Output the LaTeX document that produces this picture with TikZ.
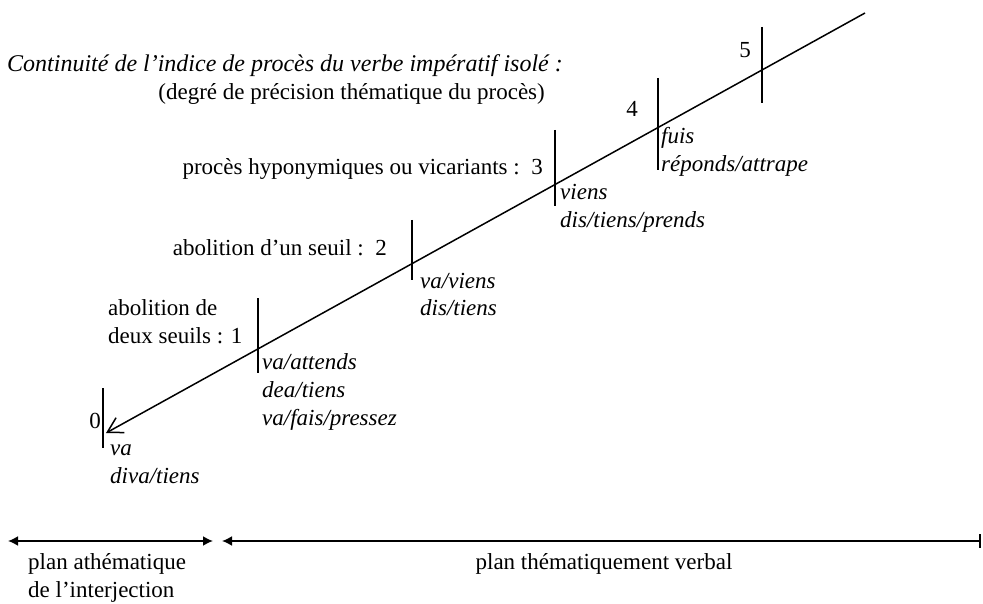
\documentclass[tikz,border=0pt]{standalone}
\usepackage{fontspec}
\setmainfont{Liberation Serif}
\usetikzlibrary{arrows.meta}
\begin{document}
\begin{tikzpicture}[x=1pt,y=-1pt,
  txt/.style={inner sep=0pt,font=\fontsize{23}{28}\selectfont},
  lw/.style={txt,anchor=base west},
  le/.style={txt,anchor=base east},
  tick/.style={line width=1.5pt},
  axis/.style={line width=1.5pt},
  span/.style={line width=1.8pt}]
\useasboundingbox (0,0) rectangle (983,604);
% main axis
\coordinate (top) at (865,13);
\coordinate (tip) at (106,433);
\draw[axis,-{Straight Barb[angle=60:17pt,line width=1.5pt]}] (top) -- (tip);
% ticks
\coordinate (t0a) at (103,388); \coordinate (t0b) at (103,448);
\coordinate (t1a) at (258,298); \coordinate (t1b) at (258,373);
\coordinate (t2a) at (412,220); \coordinate (t2b) at (412,280);
\coordinate (t3a) at (555,130); \coordinate (t3b) at (555,206);
\coordinate (t4a) at (658,78);  \coordinate (t4b) at (658,170);
\coordinate (t5a) at (762,27);  \coordinate (t5b) at (762,103);
\foreach \i in {0,...,5} {\draw[tick] (t\i a) -- (t\i b);}
% titles
\node[le,font=\fontsize{24}{28}\selectfont] (title) at (563,72) {\itshape Continuité de l’indice de procès du verbe impératif isolé :};
\node[le] (sub) at (545,100) {(degré de précision thématique du procès)};
% left labels
\node[le] (l3) at (543,175) {procès hyponymiques ou vicariants :\ \ 3};
\node[le] (l2) at (387,256) {abolition d’un seuil :\ \ 2};
\node[lw] (l1a) at (108,315) {abolition de};
\node[lw] (l1b) at (108,343) {deux seuils : 1};
\node[le] (l0) at (101,428) {0};
\node[le] (l4) at (638,117) {4};
\node[le] (l5) at (751,58) {5};
% right labels
\node[lw] (r0a) at (110,455) {\itshape va};
\node[lw] (r0b) at (110,483) {\itshape diva/tiens};
\node[lw] (r1a) at (262,369) {\itshape va/attends};
\node[lw] (r1b) at (262,397) {\itshape dea/tiens};
\node[lw] (r1c) at (262,425) {\itshape va/fais/pressez};
\node[lw] (r2a) at (420,288) {\itshape va/viens};
\node[lw] (r2b) at (420,315) {\itshape dis/tiens};
\node[lw] (r3a) at (560,200) {\itshape viens};
\node[lw] (r3b) at (560,228) {\itshape dis/tiens/prends};
\node[lw] (r4a) at (661,144) {\itshape fuis};
\node[lw] (r4b) at (661,172) {\itshape réponds/attrape};
% bottom spans
\coordinate (s1a) at (8,541); \coordinate (s1b) at (213,541);
\coordinate (s2a) at (222,541); \coordinate (s2b) at (981,541);
\draw[span,{Latex[length=10pt,width=10pt]}-{Latex[length=10pt,width=10pt]}] (s1a) -- (s1b);
\draw[span,{Latex[length=10pt,width=10pt]}-{Bar[width=14pt]}] (s2a) -- (s2b);
\node[lw] (b1a) at (28,569) {plan athématique};
\node[lw] (b1b) at (28,597) {de l’interjection};
\node[txt,anchor=base] (b2) at (604,569) {plan thématiquement verbal};
\end{tikzpicture}
\end{document}
